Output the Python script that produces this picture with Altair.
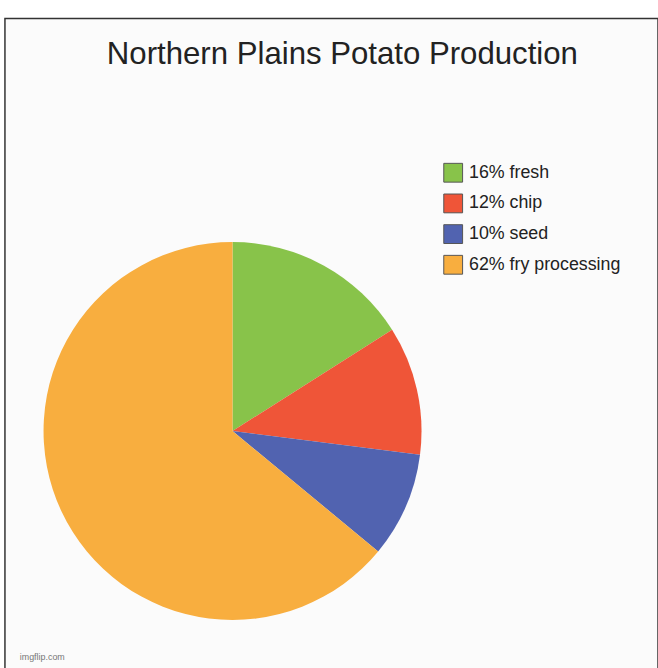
import altair as alt
import pandas as pd

labels = ["16% fresh", "12% chip", "10% seed", "62% fry processing"]
values = [16, 11, 9, 64]
order = [0, 1, 2, 3]
colors = ["#88C34A", "#EF5538", "#5163B0", "#F8AE3F"]
watermark = ["imgflip.com"]

df = pd.DataFrame({"label": labels, "value": values, "order": order})
wm = pd.DataFrame({"t": watermark})

pie = alt.Chart(df).mark_arc(outerRadius=191).encode(
    x=alt.value(230),
    y=alt.value(417),
    theta=alt.Theta("value:Q", stack=True),
    order=alt.Order("order:Q"),
    color=alt.Color(
        "label:N",
        scale=alt.Scale(domain=labels, range=colors),
        legend=alt.Legend(
            title=None,
            orient="none",
            legendX=443,
            legendY=146,
            symbolType="square",
            symbolSize=361,
            symbolStrokeColor="#555555",
            symbolStrokeWidth=1,
            symbolOpacity=1,
            labelFont="Liberation Sans",
            labelFontSize=18,
            labelColor="#222222",
            labelOffset=6,
            rowPadding=7,
            padding=0,
        ),
    ),
)

mark = alt.Chart(wm).mark_text(
    font="Liberation Sans", fontSize=9, color="#777777", align="left", baseline="middle"
).encode(x=alt.value(15), y=alt.value(645), text="t:N")

chart = alt.layer(pie, mark).properties(
    width=660,
    height=660,
    padding={"left": 5, "top": 15, "right": 0, "bottom": 0},
    autosize=alt.AutoSizeParams(type="none"),
    background="white",
    title=alt.TitleParams(
        "Northern Plains Potato Production",
        font="Liberation Sans",
        fontSize=31.5,
        fontWeight="normal",
        color="#222222",
        anchor="middle",
        dx=11,
        offset=-53,
    ),
).configure_view(stroke="#333333", strokeWidth=1.5, fill="#fbfbfb")

chart.save("out.html", embed_options={"renderer": "svg", "actions": False})
